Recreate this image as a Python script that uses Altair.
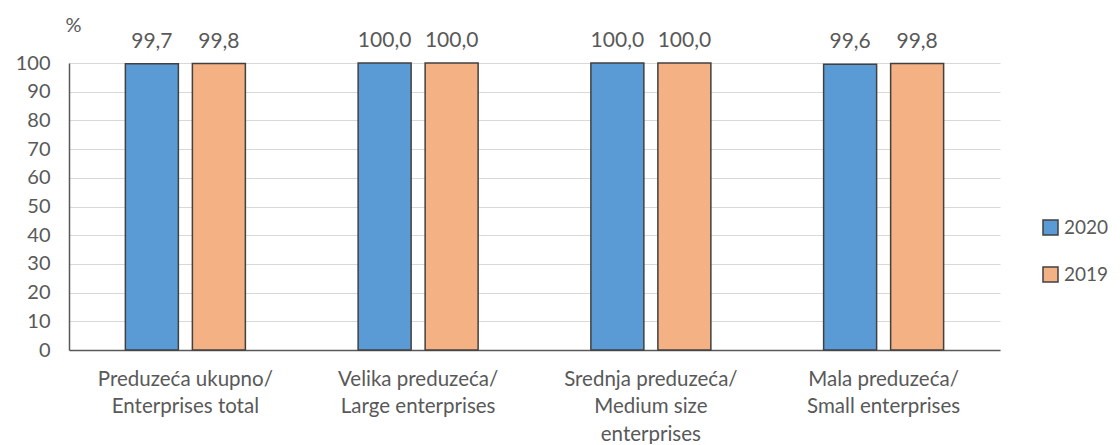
import altair as alt
import pandas as pd

categories = ["Preduzeća ukupno/|Enterprises total",
              "Velika preduzeća/|Large enterprises",
              "Srednja preduzeća/|Medium size|enterprises",
              "Mala preduzeća/|Small enterprises"]
years = ["2020", "2019"]
values_2020 = [99.7, 100.0, 100.0, 99.6]
values_2019 = [99.8, 100.0, 100.0, 99.8]
y_ticks = [0, 10, 20, 30, 40, 50, 60, 70, 80, 90, 100]

rows = []
for c, v in zip(categories, values_2020):
    rows.append({"cat": c, "year": "2020", "value": v})
for c, v in zip(categories, values_2019):
    rows.append({"cat": c, "year": "2019", "value": v})
df = pd.DataFrame(rows)

FONT = "Lato"
GREY = "#595959"

x = alt.X("cat:N", sort=categories, title=None,
          scale=alt.Scale(paddingInner=0.4844, paddingOuter=0.2422),
          axis=alt.Axis(labelExpr="split(datum.value, '|')", labelAngle=0,
                        labelFont=FONT, labelFontSize=20.5, labelColor=GREY,
                        labelPadding=19, labelLineHeight=27.5, ticks=False,
                        domainColor=GREY, domainWidth=1.5, grid=False,
                        labelBaseline="top"))
xo = alt.XOffset("year:N", sort=years,
                 scale=alt.Scale(paddingInner=0.209, paddingOuter=0))
y = alt.Y("value:Q", scale=alt.Scale(domain=[0, 100], nice=False),
          title="%",
          axis=alt.Axis(values=y_ticks, labelOverlap=False, labelFont=FONT,
                        labelFontSize=20, labelColor=GREY, labelPadding=19,
                        ticks=False, domainColor=GREY, domainWidth=1.5,
                        gridColor="#d9d9d9", gridWidth=1.2,
                        titleAngle=0, titleX=4, titleY=-38,
                        titleAlign="center", titleBaseline="middle",
                        titleFont=FONT, titleFontSize=20,
                        titleFontWeight="normal", titleColor=GREY))

base = alt.Chart(df).encode(x=x, xOffset=xo, y=y)

bars = base.mark_bar(stroke="#404040", strokeWidth=1.5).encode(
    color=alt.Color("year:N", sort=years,
                    scale=alt.Scale(domain=years, range=["#5B9BD5", "#F4B183"]),
                    legend=alt.Legend(title=None, orient="none", legendX=972,
                                      legendY=155, symbolType="square",
                                      symbolSize=225, symbolStrokeColor="#404040",
                                      symbolStrokeWidth=1.5,
                                      labelFont=FONT, labelFontSize=19,
                                      labelColor=GREY, rowPadding=26,
                                      labelOffset=4)),
)

labels = base.transform_calculate(
    lab="replace(format(datum.value, '.1f'), '.', ',')"
).mark_text(font=FONT, fontSize=21, color=GREY, baseline="alphabetic", dy=-16).encode(
    text="lab:N",
)

chart = (bars + labels).properties(
    width=931, height=287,
    autosize=alt.AutoSizeParams(type="none"),
    padding={"left": 61, "top": 55, "right": 112, "bottom": 94},
).configure_view(stroke=None)

chart.save("out.html", embed_options={"renderer": "svg", "actions": False})
